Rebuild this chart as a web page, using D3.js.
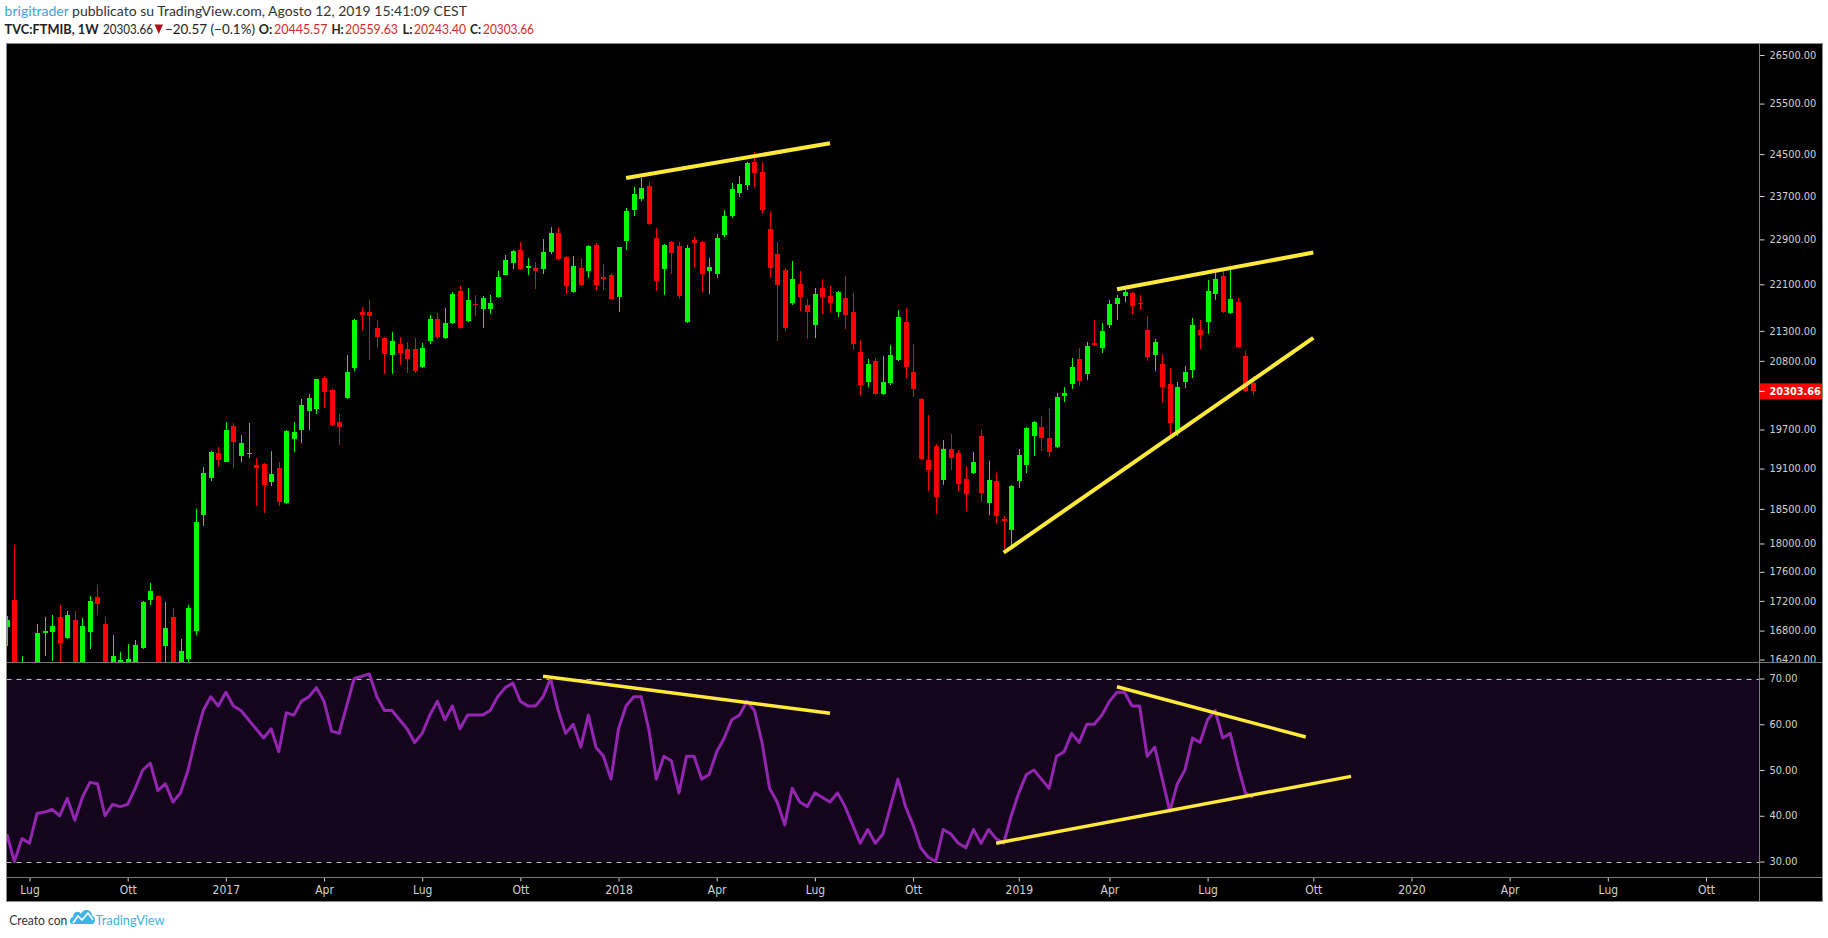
<!DOCTYPE html>
<html><head><meta charset="utf-8">
<script src="https://cdn.jsdelivr.net/npm/d3@7"></script>
<style>
html,body{margin:0;padding:0;background:#fff;}
svg{display:block;}
</style></head><body>
<svg id="c" width="1828" height="938"></svg>
<script>
// ---- DATA (weekly FTSE MIB, first bar = week of 2016-06-13) ----
const firstWeek = "2016-06-13";
const opens = [16849,17213,15650,16200,16100,16773,16782,16983,16703,16943,16300,16782,17254,16889,16250,16300,16320,16300,16571,17213,17268,16598,16983,16330,16428,16796,18412,18958,19337,19200,19755,19291,19322,19155,19170,18898,19110,18587,19553,19693,19991,20023,20520,20326,19818,20198,20684,21621,21621,21349,21180,20897,21080,20997,20997,20700,21130,21502,21180,21434,21983,21468,21758,21672,21672,21879,22265,22477,22709,22388,22388,22370,22673,23016,22584,21966,22388,22335,22799,22229,22265,21879,22871,23440,23645,23889,22925,22370,22853,22781,21451,22889,22853,22335,22282,22980,23329,23757,23908,24348,24156,23089,22637,22352,21776,22106,21741,21400,22036,21896,21621,21862,21621,20947,20456,20798,20262,20440,20815,21451,20618,20182,19231,19445,18928,19398,19337,18943,19034,19599,18587,18913,18353,18194,18913,19155,19599,19740,19568,19430,20230,20423,20831,20586,21097,21013,21400,21758,21896,21948,21776,21315,20897,20749,20423,19677,20456,20651,21315,21451,21931,22247,21604,21793,20881,20445.57];
const highs = [17000,17979,16467,16320,16889,16983,17010,17145,17064,17064,16970,17268,17419,16983,16743,16519,16624,16677,17199,17446,17282,17186,17104,16690,17145,18499,19125,19370,19430,19818,19802,19615,19802,19261,19180,19368,19200,19693,19818,20182,20261,20510,20553,20340,19944,20897,21502,21707,21827,21485,21190,21281,21197,21113,21180,21097,21570,21604,21690,21966,22071,22036,21914,21896,21914,22335,22619,22700,22853,22566,22494,22907,23126,23126,22600,22602,22566,22799,22835,22459,22300,22770,23477,23871,24041,23965,23108,22817,22870,22853,22799,22944,22871,22566,22998,23440,23946,24079,24340,24544,24348,23422,22853,22388,22512,22335,21844,22036,22194,22071,21980,22247,21948,21147,20831,20847,20881,21063,21655,21690,21080,20190,19928,19475,19537,19630,19383,19140,19352,19693,19216,19034,18397,18850,19398,19740,19833,19912,20023,20278,20374,20847,21013,21113,21485,21434,21827,21914,22053,21960,21914,21553,21163,20914,20684,20456,20717,21519,21485,22176,22300,22335,22352,21862,20964,20559.63];
const lows = [16600,15500,15017,15600,16000,16467,16402,16300,16690,16250,16250,16558,17010,16200,16150,16000,16200,16250,16558,17145,16300,16250,16300,16300,16390,16743,18252,18913,19140,19200,19110,19200,19261,18543,18440,18838,18543,18570,19352,19491,19693,19944,20039,19760,19460,20182,20635,21315,20815,21013,20586,20586,20733,20602,20602,20690,21080,21163,21163,21420,21332,21450,21553,21349,21587,21870,22255,22370,22352,22265,22018,22282,22637,22530,21931,21948,22071,22211,22001,22001,21840,21621,22709,23329,23607,23170,21983,21914,22282,21844,21440,22405,21966,21931,22211,22944,23292,23682,23813,23870,23385,22211,21130,21298,21741,21638,21163,21180,21587,21604,21536,21332,20980,20246,20374,20246,20250,20405,20798,20520,20214,19231,18764,18426,18853,19079,18764,18469,19020,18602,18412,18296,17922,17979,18808,19034,19291,19368,19276,19420,20134,20342,20391,20488,21046,20930,21349,21485,21793,21587,21655,20798,20635,20134,19553,19599,20358,20520,20997,21247,21827,21610,21587,21020,20300,20243.40];
const closes = [16943,15723,16250,16050,16770,16800,16862,16637,17010,16300,16862,17199,17158,16320,16467,16415,16428,16611,17186,17336,16330,16835,16340,16532,17104,18310,19034,19352,19231,19693,19506,19491,19337,19110,18853,19019,18602,19677,19662,20087,20198,20504,20294,19771,19740,20618,21485,21570,21553,21197,20914,21130,20930,20831,20635,21013,21502,21197,21434,21931,21349,21827,21741,21862,21776,22229,22530,22691,22370,22423,22335,22673,23016,22548,22071,22423,22088,22781,22088,22194,21844,22763,23422,23738,23851,23181,22158,22799,22655,21896,22745,22835,22282,22405,22925,23329,23832,23927,24328,24137,23440,22388,22088,21349,22194,21879,21621,21931,21879,21776,21966,21570,21080,20405,20749,20262,20456,20897,21536,20700,20342,19246,19079,18675,19398,19261,18868,18719,19200,18734,18928,18397,18325,18838,19307,19724,19818,19568,19352,20214,20278,20700,20472,21046,21063,21298,21758,21862,21966,21724,21758,20864,21113,20374,19802,20374,20618,21400,21230,21983,22194,21621,21844,21030,20310,20303.66];
const rsiValues = [36,30,35,34,40.5,40.8,41.4,40,43.8,39,44,47.3,47,40,42.5,42,42.5,46,50,51.5,45.5,47,43,45,50,57,63,66,64,67,64,63,61,59,57,59,54,62.5,62,65,66,68,65,58.5,58,64,70,70.5,71,66,63,63,61,59,56,58,62,65,61,64,59,62,62,62,63,66,68,69,65,64,64,66,70,63,58,60,55,62,55,53,48,59,64,66,66,59,48,53,52,45,53,53,48,49,54,57,61,62,65,63,56,46,43,38,46,43,42,45,44,43,45,42,38,34,37,34,36,42,48,42,38,33,31,30,37,36,34,33,37,34,37,35,34,40,45,49,50,48,46,53,54,58,56,60,60,62,65,67,67,64,64,53,55,48,41,47,50,57,56,61,63,57,58,51,45,44];
const priceTicks = [26500,25500,24500,23700,22900,22100,21300,20800,19700,19100,18500,18000,17600,17200,16800,16420];
const rsiTicks = [70,60,50,40,30];
const timeTickDates = ["2016-07-04","2016-10-03","2017-01-02","2017-04-03","2017-07-03","2017-10-02","2018-01-01","2018-04-02","2018-07-02","2018-10-01","2019-01-07","2019-04-01","2019-07-01","2019-10-07","2020-01-06","2020-04-06","2020-07-06","2020-10-05"];
const timeTickLabels = ["Lug","Ott","2017","Apr","Lug","Ott","2018","Apr","Lug","Ott","2019","Apr","Lug","Ott","2020","Apr","Lug","Ott"];
const priceTrendLines = [
  [["2018-01-08",24041],["2018-07-16",24710]],
  [["2019-04-08",22013],["2019-10-07",22664]],
  [["2018-12-24",17870],["2019-10-07",21181]]
];
const rsiTrendLines = [
  [["2017-10-23",70.5],["2018-07-16",62.4]],
  [["2019-04-08",68.2],["2019-09-30",57.2]],
  [["2018-12-17",34.0],["2019-11-11",48.6]]
];
const lastPrice = 20303.66;

// ---- LAYOUT ----
const svg = d3.select("#c");
const L = 6.5, R = 1822.5, AX = 1759.5;
const TOP = 43.5, SEP = 662.5, RSIB = 877.5, BOT = 901.5;
const parse = d3.utcParse("%Y-%m-%d");
const dates = opens.map((_, i) => new Date(parse(firstWeek).getTime() + i * 7 * 86400000));

const x = d3.scaleUtc().domain([parse("2016-07-04"), parse("2020-10-05")]).range([29.5, 1706]);
const y = d3.scaleLog().domain([16420, 26500]).range([659.5, 55]);
const yr = d3.scaleLinear().domain([30, 70]).range([861.5, 678.5]);

const defs = svg.append("defs");
defs.append("clipPath").attr("id","cpMain").append("rect").attr("x",L+0.5).attr("y",TOP+0.5).attr("width",AX-L-1).attr("height",SEP-TOP-1);
defs.append("clipPath").attr("id","cpRsi").append("rect").attr("x",L+0.5).attr("y",SEP+0.5).attr("width",AX-L-1).attr("height",RSIB-SEP-1);

// background
svg.append("rect").attr("x",L).attr("y",TOP).attr("width",R-L).attr("height",BOT-TOP).attr("fill","#000");

// header
const hf = "Lato, 'Open Sans', sans-serif";
const h1 = svg.append("text").attr("x",4.6).attr("y",16).attr("font-family",hf).attr("font-size",14).attr("fill","#333");
h1.append("tspan").attr("fill","#3ca3dd").text("brigitrader");
h1.append("tspan").text(" pubblicato su TradingView.com, Agosto 12, 2019 15:41:09 CEST");
const parts = [
  {t:"TVC:FTMIB, 1W", x:4.6, w:94, b:true, c:"#222"},
  {t:"20303.66", x:103, w:50, b:false, c:"#222"},
  {t:"\u221220.57 (\u22120.1%)", x:165, w:90, b:false, c:"#222"},
  {t:"O:", x:258.7, w:13.5, b:true, c:"#222"}, {t:"20445.57", x:274, w:53.5, b:false, c:"#cf2d2d"},
  {t:"H:", x:331.4, w:12.3, b:true, c:"#222"}, {t:"20559.63", x:345, w:53, b:false, c:"#cf2d2d"},
  {t:"L:", x:402.6, w:10, b:true, c:"#222"}, {t:"20243.40", x:414, w:52, b:false, c:"#cf2d2d"},
  {t:"C:", x:470, w:11, b:true, c:"#222"}, {t:"20303.66", x:483, w:51, b:false, c:"#cf2d2d"}
];
parts.forEach(p => svg.append("text").attr("x",p.x).attr("y",34).attr("font-family",hf).attr("font-size",13.5)
  .attr("font-weight",p.b?"bold":"normal").attr("fill",p.c)
  .attr("textLength",p.w).attr("lengthAdjust","spacingAndGlyphs").text(p.t));
svg.append("path").attr("d","M154.5,24.5 L163,24.5 L158.75,34 Z").attr("fill","#b0101a");

// ---- MAIN PANE ----
const gm = svg.append("g").attr("clip-path","url(#cpMain)");
const candles = gm.selectAll("g.k").data(dates).enter().append("g").attr("shape-rendering","crispEdges");
candles.each(function(d,i){
  const g = d3.select(this);
  const cx = Math.round(x(d));
  const up = closes[i] >= opens[i];
  const col = up ? "#00ff00" : "#ff0000";
  const yh = y(highs[i]), yl = y(lows[i]);
  g.append("rect").attr("x",cx).attr("y",yh).attr("width",1).attr("height",Math.max(1,yl-yh)).attr("fill",col);
  const yo = y(opens[i]), yc = y(closes[i]);
  const top = Math.min(yo,yc), h = Math.max(1, Math.abs(yo-yc));
  g.append("rect").attr("x",cx-2).attr("y",top).attr("width",5).attr("height",h).attr("fill",col);
});
priceTrendLines.forEach(l => gm.append("line")
  .attr("x1",x(parse(l[0][0]))).attr("y1",y(l[0][1])).attr("x2",x(parse(l[1][0]))).attr("y2",y(l[1][1]))
  .attr("stroke","#ffe93b").attr("stroke-width",4));

// ---- RSI PANE ----
const grs = svg.append("g").attr("clip-path","url(#cpRsi)");
grs.append("rect").attr("x",L).attr("y",yr(70)).attr("width",AX-L).attr("height",yr(30)-yr(70)).attr("fill","#14041c");
[70,30].forEach(v => grs.append("line").attr("x1",L).attr("x2",AX).attr("y1",Math.round(yr(v))+0.5).attr("y2",Math.round(yr(v))+0.5)
  .attr("stroke","#bdbdbd").attr("stroke-width",1).attr("stroke-dasharray","5,5"));
grs.append("path").datum(rsiValues).attr("fill","none").attr("stroke","#9326b0").attr("stroke-width",3)
  .attr("stroke-linejoin","round")
  .attr("d", d3.line().x((v,i)=>x(dates[i])).y(v=>yr(v)));
rsiTrendLines.forEach(l => grs.append("line")
  .attr("x1",x(parse(l[0][0]))).attr("y1",yr(l[0][1])).attr("x2",x(parse(l[1][0]))).attr("y2",yr(l[1][1]))
  .attr("stroke","#ffe93b").attr("stroke-width",3.5));

// ---- AXES ----
const axCol = "#d2d2d2", lineCol = "#7a7a7a";
const af = "'DejaVu Sans', Verdana, sans-serif";
const pa = svg.append("g").attr("transform",`translate(${AX},0)`)
  .call(d3.axisRight(y).tickValues(priceTicks).tickFormat(d3.format(".2f")).tickSize(5).tickPadding(5));
pa.select(".domain").remove();
pa.selectAll("line").attr("stroke",axCol);
pa.selectAll("text").attr("fill",axCol).attr("font-family",af).attr("font-size",9.8);
const ra = svg.append("g").attr("transform",`translate(${AX},0)`)
  .call(d3.axisRight(yr).tickValues(rsiTicks).tickFormat(d3.format(".2f")).tickSize(5).tickPadding(5));
ra.select(".domain").remove();
ra.selectAll("line").attr("stroke",axCol);
ra.selectAll("text").attr("fill",axCol).attr("font-family",af).attr("font-size",9.8);
// time axis
const ta = svg.append("g").attr("transform",`translate(0,${RSIB})`)
  .call(d3.axisBottom(x).tickValues(timeTickDates.map(parse)).tickFormat((d,i)=>timeTickLabels[i]).tickSize(4).tickPadding(4));
ta.select(".domain").remove();
ta.selectAll("line").attr("stroke",axCol);
ta.selectAll("text").attr("fill",axCol).attr("font-family","'Liberation Sans Narrow','DejaVu Sans Condensed','Roboto Condensed',sans-serif")
  .attr("font-stretch","condensed").attr("font-size",12);

// frame lines
svg.append("line").attr("x1",L).attr("x2",R).attr("y1",SEP).attr("y2",SEP).attr("stroke",lineCol);
svg.append("line").attr("x1",L).attr("x2",R).attr("y1",RSIB).attr("y2",RSIB).attr("stroke",lineCol);
svg.append("line").attr("x1",AX).attr("x2",AX).attr("y1",TOP).attr("y2",BOT).attr("stroke",lineCol);
svg.append("rect").attr("x",L).attr("y",TOP).attr("width",R-L).attr("height",BOT-TOP).attr("fill","none").attr("stroke","#8a8a8a");

// last price label
const lpY = y(lastPrice);
svg.append("rect").attr("x",AX+0.5).attr("y",lpY-8).attr("width",R-AX-1).attr("height",16).attr("fill","#ff0000");
svg.append("line").attr("x1",AX).attr("x2",AX+5).attr("y1",lpY).attr("y2",lpY).attr("stroke","#fff");
svg.append("text").attr("x",AX+10).attr("y",lpY).attr("dy","0.35em").attr("fill","#fff").attr("font-family",af)
  .attr("font-size",9.8).attr("font-weight","bold").text(d3.format(".2f")(lastPrice));

// footer
svg.append("text").attr("x",9.3).attr("y",925).attr("font-family",hf)
  .attr("font-size",14).attr("fill","#333").attr("textLength",58).attr("lengthAdjust","spacingAndGlyphs").text("Creato con");
const lg = svg.append("g").attr("transform","translate(70,907)");
lg.append("path").attr("d","M2,17 C-1,17 -1,11 3,10 C3,5 9,3 11,7 C13,1 22,2 22,9 C26,9 26,17 22,17 Z").attr("fill","#3cb4e6");
lg.append("path").attr("d","M3,16 L8,9 L12,13 L18,6 L23,13").attr("fill","none").attr("stroke","#fff").attr("stroke-width",1.6);
svg.append("text").attr("x",95.6).attr("y",925).attr("font-family",hf)
  .attr("font-size",14).attr("fill","#3cb4e6").attr("textLength",69).attr("lengthAdjust","spacingAndGlyphs").text("TradingView");
</script>
</body></html>
